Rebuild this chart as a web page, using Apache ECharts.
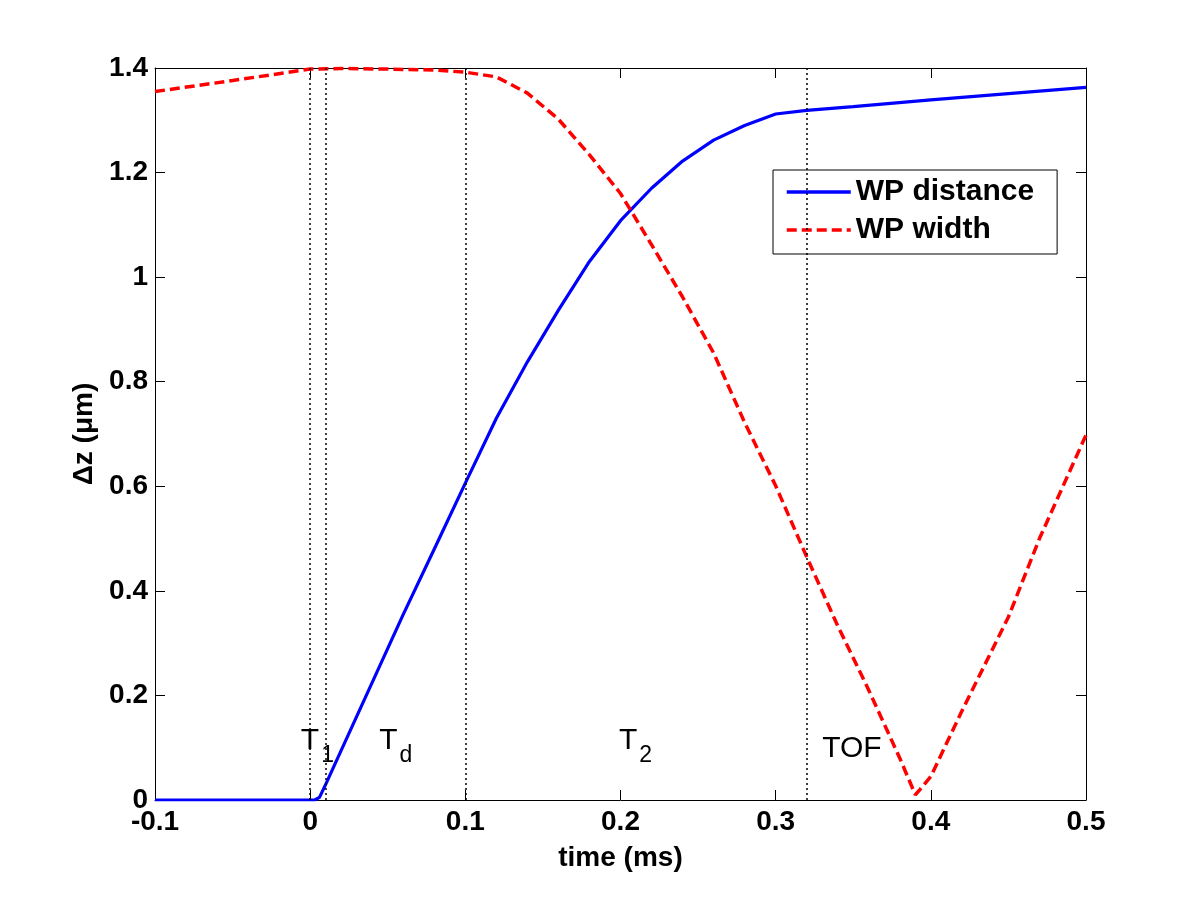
<!DOCTYPE html>
<html>
<head>
<meta charset="UTF-8" />
<title>WP distance / WP width</title>
<style>
  html, body { margin: 0; padding: 0; background: #fff; }
  #chart { width: 1200px; height: 900px; }
</style>
<script src="https://cdn.jsdelivr.net/npm/echarts@6/dist/echarts.min.js"></script>
</head>
<body>
<div id="chart"></div>
<script>
// WP distance (solid blue)
var distTime = [-0.1, 0, 0.003, 0.006, 0.01, 0.02, 0.04, 0.06, 0.08, 0.1, 0.12, 0.14, 0.16,
                0.18, 0.2, 0.22, 0.24, 0.26, 0.28, 0.3, 0.32, 0.35, 0.4, 0.45, 0.5];
var distValue = [0, 0, 0, 0.005, 0.03, 0.095, 0.225, 0.355, 0.48, 0.606, 0.73, 0.838, 0.937,
                 1.03, 1.108, 1.17, 1.222, 1.262, 1.29, 1.312, 1.319, 1.326, 1.339, 1.351, 1.363];

// WP width (dashed red)
var widthTime = [-0.1, -0.05, 0, 0.02, 0.05, 0.08, 0.1, 0.12, 0.14, 0.16, 0.18, 0.2, 0.22,
                 0.24, 0.26, 0.28, 0.3, 0.32, 0.34, 0.36, 0.38, 0.39, 0.393, 0.4, 0.42,
                 0.45, 0.47, 0.5];
var widthValue = [1.355, 1.376, 1.398, 1.399, 1.398, 1.396, 1.392, 1.383, 1.352, 1.302, 1.234,
                  1.16, 1.062, 0.962, 0.855, 0.722, 0.601, 0.465, 0.333, 0.21, 0.08, 0.01,
                  0.02, 0.045, 0.17, 0.35, 0.5, 0.698];

// dotted markers and their labels
var markerTimes = [0, 0.01, 0.1, 0.32];
var labelMain = ['T', 'T', 'T', 'TOF'];
var labelSub = ['1', 'd', '2', ''];
var labelTime = [-0.006, 0.0445, 0.199, 0.33];
var labelLevel = [0.113, 0.113, 0.113, 0.099];

var FONT = '"Liberation Sans", Arial, Helvetica, sans-serif';

function pairs(xs, ys) {
  return xs.map(function (x, i) { return [x, ys[i]]; });
}

var chart = echarts.init(document.getElementById('chart'));

var axisLine = { show: true, onZero: false, lineStyle: { color: '#000', width: 1 } };
var axisTick = { show: true, inside: true, length: 10, lineStyle: { color: '#000', width: 1 } };

var option = {
  backgroundColor: '#fff',
  animation: false,
  textStyle: { fontFamily: FONT },
  grid: { left: 155, right: 114, top: 68, bottom: 100 },
  legend: {
    data: ['WP distance', 'WP width'],
    orient: 'vertical',
    left: 773,
    top: 170,
    itemWidth: 64,
    itemHeight: 14,
    itemGap: 8,
    padding: [7, 23, 9, 12],
    backgroundColor: '#fff',
    borderColor: '#000',
    borderWidth: 1,
    borderRadius: 0,
    itemStyle: { opacity: 0 },
    lineStyle: { width: 3.5 },
    textStyle: { fontFamily: FONT, fontSize: 30, fontWeight: 'bold', color: '#000', lineHeight: 30 }
  },
  xAxis: [{
    type: 'value',
    min: -0.1,
    max: 0.5,
    interval: 0.1,
    name: 'time (ms)',
    nameLocation: 'middle',
    nameGap: 44,
    nameTextStyle: { fontFamily: FONT, fontSize: 28, fontWeight: 'bold', color: '#000' },
    axisLine: axisLine,
    axisTick: axisTick,
    splitLine: { show: false },
    axisLabel: { fontFamily: FONT, fontSize: 28, fontWeight: 'bold', color: '#000', margin: 8 }
  }, {
    type: 'value',
    position: 'top',
    min: -0.1,
    max: 0.5,
    interval: 0.1,
    axisLine: axisLine,
    axisTick: axisTick,
    splitLine: { show: false },
    axisLabel: { show: false }
  }],
  yAxis: [{
    type: 'value',
    min: 0,
    max: 1.4,
    interval: 0.2,
    name: 'Δz (μm)',
    nameLocation: 'middle',
    nameGap: 57,
    nameTextStyle: { fontFamily: FONT, fontSize: 28, fontWeight: 'bold', color: '#000' },
    axisLine: axisLine,
    axisTick: axisTick,
    splitLine: { show: false },
    axisLabel: { fontFamily: FONT, fontSize: 28, fontWeight: 'bold', color: '#000', margin: 7 }
  }, {
    type: 'value',
    position: 'right',
    min: 0,
    max: 1.4,
    interval: 0.2,
    axisLine: axisLine,
    axisTick: axisTick,
    splitLine: { show: false },
    axisLabel: { show: false }
  }],
  series: [
    {
      name: 'markers',
      type: 'line',
      data: [],
      silent: true,
      z: 1,
      markLine: {
        silent: true,
        symbol: ['none', 'none'],
        label: { show: false },
        lineStyle: { color: '#000', type: [2, 3], width: 1.5 },
        emphasis: { disabled: true },
        data: markerTimes.map(function (t) { return { xAxis: t }; })
      }
    },
    {
      name: 'WP distance',
      type: 'line',
      data: pairs(distTime, distValue),
      showSymbol: false,
      symbol: 'none',
      z: 3,
      lineStyle: { color: '#0000ff', width: 3.2, type: 'solid' },
      itemStyle: { color: '#0000ff' }
    },
    {
      name: 'WP width',
      type: 'line',
      data: pairs(widthTime, widthValue),
      showSymbol: false,
      symbol: 'none',
      z: 3,
      lineStyle: { color: '#ff0000', width: 3.5, type: [10, 5] },
      itemStyle: { color: '#ff0000' }
    },
    {
      name: 'labels',
      type: 'scatter',
      symbolSize: 0,
      silent: true,
      z: 4,
      data: labelTime.map(function (t, i) {
        return { value: [t, labelLevel[i]], main: labelMain[i], sub: labelSub[i] };
      }),
      label: {
        show: true,
        position: 'right',
        distance: 0,
        color: '#000',
        opacity: 1,
        formatter: function (p) {
          var s = '{a|' + p.data.main + '}';
          if (p.data.sub) s += '{b|' + p.data.sub + '}';
          return s;
        },
        rich: {
          a: { fontFamily: FONT, fontSize: 30, color: '#000', lineHeight: 30, verticalAlign: 'top' },
          b: { fontFamily: FONT, fontSize: 23, color: '#000', lineHeight: 23,
               verticalAlign: 'top', padding: [18, 0, 0, 2] }
        }
      }
    }
  ]
};

chart.setOption(option);
</script>
</body>
</html>
